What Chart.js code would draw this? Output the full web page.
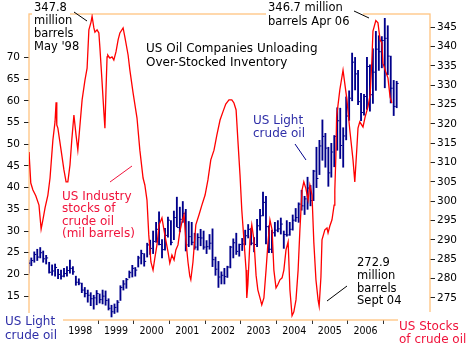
<!DOCTYPE html>
<html>
<head>
<meta charset="utf-8">
<script src="https://cdn.jsdelivr.net/npm/chart.js@4.4.1/dist/chart.umd.min.js"></script>
<style>
  html, body { margin: 0; padding: 0; background: #fff; }
  canvas { display: block; }
</style>
</head>
<body>
<canvas id="oilChart" width="467" height="347"></canvas>
<script>
// monthly US light crude bars, starting July 1996
const firstMonth = { year: 1996, month: 7 };

const priceHigh = [
  23.3, 23.8, 25.2, 25.8, 26.2, 25.4,
  24.4, 22.8, 22.2, 22.4, 21.2, 21.0, 21.4, 21.8, 23.3, 21.8, 19.6, 19.0,
  18.0, 17.0, 16.4, 15.8, 15.2, 16.3, 15.5, 16.4, 16.2, 14.4, 12.9, 13.2,
  14.0, 17.4, 18.6, 19.1, 20.8, 22.1, 21.6, 24.2, 25.6, 24.8, 27.2, 27.9,
  30.0, 32.0, 34.4, 28.0, 30.6, 33.2, 32.4, 34.6, 37.8, 35.5, 36.8, 35.0,
  32.2, 32.0, 29.5, 29.4, 30.4, 30.0, 27.8, 29.2, 30.5, 24.0, 23.0, 20.6,
  21.4, 21.9, 26.5, 28.2, 29.5, 27.0, 28.3, 30.2, 31.5, 30.6, 28.5, 32.7,
  35.0, 39.0, 38.0, 31.2, 30.2, 32.0, 32.4, 33.0, 30.0, 32.4, 32.0, 33.7,
  35.2, 36.5, 39.4, 38.0, 42.4, 40.5, 44.0, 49.3, 50.9, 55.6, 52.5, 49.3,
  50.2, 52.0, 58.4, 58.3, 53.8, 60.9, 62.3, 71.0, 70.0, 67.0, 61.7, 61.5,
  70.0, 68.3, 72.0, 76.0, 75.0, 74.8, 79.0, 77.3, 70.3, 64.7, 64.5
];
const priceLow = [
  20.3, 22.0, 22.8, 23.2, 23.8, 22.8,
  22.4, 20.3, 19.8, 19.6, 19.0, 18.9, 19.4, 19.6, 20.3, 20.0, 17.5, 17.6,
  15.8, 14.8, 13.6, 12.8, 12.0, 13.0, 13.4, 13.2, 12.9, 11.8, 10.2, 11.0,
  11.3, 14.0, 16.4, 16.8, 19.2, 19.4, 19.6, 21.7, 22.4, 21.9, 24.0, 24.6,
  24.8, 27.4, 26.8, 23.8, 25.6, 28.6, 26.8, 28.0, 31.0, 29.8, 32.0, 25.4,
  26.4, 26.8, 25.8, 25.6, 26.6, 25.8, 24.8, 25.8, 21.8, 19.8, 17.0, 17.8,
  17.8, 19.3, 21.5, 23.8, 24.6, 24.2, 25.5, 26.8, 28.4, 26.8, 25.2, 26.4,
  30.2, 33.5, 27.0, 25.0, 25.0, 28.8, 29.8, 29.3, 26.0, 28.8, 29.0, 30.2,
  32.2, 32.0, 34.8, 33.8, 35.0, 35.8, 37.0, 40.0, 43.0, 46.3, 44.7, 40.3,
  42.4, 44.8, 48.6, 46.7, 44.7, 51.0, 55.5, 60.0, 62.5, 59.1, 55.4, 56.7,
  58.0, 57.6, 59.4, 62.4, 67.0, 67.6, 63.0, 66.0, 59.5, 56.6, 58.4
];
const priceClose = [
  22.6, 23.2, 24.6, 24.0, 25.0, 23.6,
  23.8, 20.5, 20.8, 21.6, 20.0, 19.6, 20.2, 20.9, 21.4, 20.6, 18.2, 18.0,
  16.4, 15.6, 15.2, 14.4, 14.6, 15.6, 14.2, 15.0, 14.0, 12.2, 11.4, 12.4,
  13.6, 17.0, 17.8, 18.8, 20.4, 21.4, 21.0, 23.8, 24.8, 23.0, 26.8, 26.0,
  27.6, 30.4, 26.9, 25.7, 29.0, 32.5, 27.4, 33.1, 30.8, 32.7, 34.0, 26.8,
  28.7, 27.4, 26.3, 28.5, 28.4, 26.3, 26.4, 27.2, 23.4, 21.2, 19.4, 19.8,
  19.5, 21.7, 26.3, 27.3, 25.3, 26.9, 27.0, 28.9, 30.4, 27.2, 26.9, 31.2,
  33.5, 36.6, 31.0, 25.8, 29.6, 30.2, 30.5, 31.6, 29.2, 29.1, 30.4, 32.5,
  33.1, 36.2, 35.8, 37.4, 39.9, 37.0, 43.8, 42.1, 49.6, 51.8, 49.1, 43.4,
  48.2, 51.8, 55.4, 49.7, 51.9, 56.5, 60.6, 68.9, 66.2, 59.8, 57.3, 61.0,
  67.9, 61.4, 66.6, 71.9, 71.3, 73.9, 74.4, 70.3, 62.9, 58.7, 64.0
];

// US crude stocks (million barrels), dates as decimal years
const stockDates = [
  1996.56, 1996.61, 1996.67, 1996.75, 1996.84, 1996.90, 1996.95,
  1997.01, 1997.09, 1997.15, 1997.23, 1997.29, 1997.32, 1997.34, 1997.37, 1997.46,
  1997.54, 1997.60, 1997.65, 1997.71, 1997.76, 1997.82, 1997.88, 1997.93, 1997.99,
  1998.05, 1998.13, 1998.19, 1998.24, 1998.30, 1998.33, 1998.38, 1998.41, 1998.47, 1998.52,
  1998.55, 1998.61, 1998.66, 1998.69, 1998.72, 1998.75, 1998.77, 1998.83, 1998.89, 1998.94,
  1999.00, 1999.06, 1999.11, 1999.20, 1999.25, 1999.34, 1999.39, 1999.48,
  1999.59, 1999.67, 1999.76, 1999.81, 1999.87, 1999.92, 1999.98,
  2000.04, 2000.09, 2000.15, 2000.21, 2000.29, 2000.37, 2000.46, 2000.51,
  2000.57, 2000.63, 2000.68, 2000.74, 2000.79, 2000.85, 2000.91, 2000.96,
  2001.02, 2001.07, 2001.10, 2001.16, 2001.24, 2001.33, 2001.41,
  2001.50, 2001.58, 2001.66, 2001.75, 2001.83, 2001.92,
  2002.00, 2002.08, 2002.17, 2002.25, 2002.31, 2002.37, 2002.42, 2002.48, 2002.53,
  2002.59, 2002.65, 2002.67, 2002.70, 2002.76, 2002.81, 2002.87, 2002.93, 2002.98,
  2003.04, 2003.09, 2003.15, 2003.21, 2003.26, 2003.32, 2003.38, 2003.43, 2003.49,
  2003.54, 2003.60, 2003.66, 2003.71, 2003.77, 2003.83, 2003.88, 2003.94, 2003.99,
  2004.05, 2004.11, 2004.16, 2004.22, 2004.27, 2004.33, 2004.39, 2004.44, 2004.50,
  2004.55, 2004.61, 2004.67, 2004.70, 2004.75, 2004.78, 2004.86, 2004.92, 2004.95,
  2005.00, 2005.06, 2005.12, 2005.14, 2005.17, 2005.19, 2005.28, 2005.37, 2005.48,
  2005.56, 2005.65, 2005.70, 2005.76, 2005.79, 2005.84, 2005.93, 2005.99,
  2006.07, 2006.13, 2006.18, 2006.21, 2006.29, 2006.35, 2006.41,
  2006.46, 2006.49, 2006.57, 2006.63, 2006.69, 2006.74
];
const stockValues = [
  312.7, 304.7, 302.9, 301.4, 299.0, 292.8, 295.2,
  298.3, 301.6, 306.0, 315.8, 320.5, 325.6, 319.7, 318.9, 313.2,
  308.1, 305.0, 305.0, 309.4, 315.8, 322.3, 317.1, 313.2, 319.7,
  326.2, 331.3, 334.4, 344.3, 346.3, 347.8, 344.8, 343.7, 344.3, 343.5,
  339.6, 330.8, 323.1, 318.9, 328.7, 337.3, 337.8, 337.0, 337.3, 336.5,
  338.6, 341.7, 343.5, 344.8, 342.4, 337.8, 333.9, 328.0,
  321.5, 313.2, 306.0, 304.2, 300.3, 291.3, 284.3,
  282.2, 285.3, 288.7, 293.9, 295.7, 291.3, 286.9, 284.0,
  286.1, 284.8, 287.4, 288.7, 292.1, 294.6, 296.5, 290.0,
  284.3, 280.7, 279.7, 284.3, 293.9, 296.5, 299.0,
  301.6, 305.5, 310.7, 313.2, 317.1, 321.0,
  323.1, 325.1, 326.2, 326.2, 325.4, 323.6, 315.8, 306.8, 297.7,
  290.0, 282.2, 275.0, 278.4, 290.0, 293.9, 290.0, 280.9, 277.1,
  275.0, 273.2, 275.0, 282.2, 288.7, 295.2, 292.6, 282.2, 277.6,
  278.4, 279.7, 280.2, 282.2, 287.4, 289.5, 277.1, 270.4, 271.4,
  274.5, 282.2, 292.6, 302.9, 305.0, 303.2, 300.3, 304.2, 301.6,
  289.5, 279.7, 274.5, 272.9, 280.4, 290.0, 292.6, 293.1, 291.8,
  293.6, 295.2, 299.0, 302.9, 312.0, 321.8, 328.8, 333.9, 326.2,
  318.4, 310.7, 305.0, 314.0, 318.9, 320.5, 319.2, 321.8,
  324.4, 327.5, 336.5, 344.0, 346.7, 346.1, 341.7,
  340.9, 335.7, 333.4, 331.9, 326.9, 325.4
];

const yearTicks = [1998, 1999, 2000, 2001, 2002, 2003, 2004, 2005, 2006];
const priceTicks = [15, 20, 25, 30, 35, 40, 45, 50, 55, 60, 65, 70];
const stockTicks = [275, 280, 285, 290, 295, 300, 305, 310, 315, 320, 325, 330, 335, 340, 345];

// bar positions: middle of each month
const priceDates = priceHigh.map((_, i) => {
  const m = firstMonth.month - 1 + i;
  return firstMonth.year + Math.floor(m / 12) + ((m % 12) + 0.5) / 12;
});

const stockLine = stockDates.map((d, i) => ({ x: d, y: stockValues[i] }));
const priceRange = priceDates.map((d, i) => ({ x: d, y: [priceLow[i], priceHigh[i]] }));
const priceEnd = priceDates.map((d, i) => ({ x: d, y: priceClose[i] }));

const FONT = "'DejaVu Sans', Verdana, sans-serif";
const NAVY = '#00008b';

// text blocks: x, centre of first line, line step
const notes = [
  { lines: ['347.8', 'million', 'barrels', "May '98"], x: 34, y: 8, step: 13, size: 11.5, color: '#000', box: [32, 1, 38, 16] },
  { lines: ['346.7 million', 'barrels Apr 06'], x: 268, y: 8.5, step: 13.5, size: 11.5, color: '#000', box: [266, 1, 97, 27] },
  { lines: ['US Oil Companies Unloading', 'Over-Stocked Inventory'], x: 146, y: 49, step: 14, size: 12, color: '#000' },
  { lines: ['US Light', 'crude oil'], x: 253, y: 120.5, step: 13, size: 12, color: '#2f2fa8' },
  { lines: ['US Industry', 'stocks of', 'crude oil', '(mil barrels)'], x: 62, y: 197, step: 12.3, size: 12, color: '#f0143c' },
  { lines: ['272.9', 'million', 'barrels', 'Sept 04'], x: 357, y: 263, step: 12.8, size: 11.5, color: '#000' },
  { lines: ['US Light', 'crude oil'], x: 5, y: 322, step: 13.5, size: 12, color: '#2f2fa8', box: [0, 313, 63, 34] },
  { lines: ['US Stocks', 'of crude oil'], x: 399, y: 326.5, step: 13.5, size: 12, color: '#f0143c', box: [398, 312, 69, 35] }
];
const leaders = [
  { from: [74, 12], to: [87, 21], color: '#000' },
  { from: [354, 11], to: [369, 18], color: '#000' },
  { from: [110, 182], to: [132, 166], color: '#f0143c' },
  { from: [295, 144], to: [306, 160], color: NAVY },
  { from: [327, 301], to: [347, 286], color: '#000' }
];

const framePlugin = {
  id: 'frame',
  beforeDatasetsDraw(chart) {
    const { ctx, chartArea: a } = chart;
    ctx.save();
    ctx.strokeStyle = '#ffc480';
    ctx.lineWidth = 1.3;
    ctx.strokeRect(a.left, a.top, a.right - a.left, a.bottom - a.top);
    ctx.restore();
  },
  afterDraw(chart) {
    const ctx = chart.ctx;
    ctx.save();
    notes.forEach(n => {
      if (n.box) {
        ctx.fillStyle = '#fff';
        ctx.fillRect(n.box[0], n.box[1], n.box[2], n.box[3]);
      }
      ctx.fillStyle = n.color;
      ctx.font = n.size + 'px ' + FONT;
      ctx.textBaseline = 'middle';
      ctx.textAlign = 'left';
      n.lines.forEach((t, i) => ctx.fillText(t, n.x, n.y + i * n.step));
    });
    ctx.lineWidth = 1;
    leaders.forEach(l => {
      ctx.strokeStyle = l.color;
      ctx.beginPath();
      ctx.moveTo(l.from[0], l.from[1]);
      ctx.lineTo(l.to[0], l.to[1]);
      ctx.stroke();
    });
    ctx.restore();
  }
};

new Chart(document.getElementById('oilChart').getContext('2d'), {
  type: 'line',
  data: {
    datasets: [
      {
        type: 'line',
        data: stockLine,
        yAxisID: 'yStock',
        borderColor: '#ff0000',
        borderWidth: 1.3,
        pointRadius: 0,
        tension: 0,
        order: 0
      },
      {
        type: 'bar',
        data: priceRange,
        yAxisID: 'yPrice',
        backgroundColor: NAVY,
        barThickness: 1.2,
        order: 1
      },
      {
        type: 'line',
        data: priceEnd,
        yAxisID: 'yPrice',
        showLine: false,
        pointStyle: 'dash',
        pointRadius: 2,
        pointBorderWidth: 1,
        borderColor: NAVY,
        backgroundColor: NAVY,
        order: 1
      }
    ]
  },
  options: {
    responsive: false,
    devicePixelRatio: 1,
    animation: false,
    layout: { padding: { top: 14, left: 0, right: 0, bottom: 0 }, autoPadding: false },
    plugins: { legend: { display: false }, tooltip: { enabled: false } },
    scales: {
      x: {
        type: 'linear',
        min: 1996.56,
        max: 2007.81,
        offset: false,
        afterBuildTicks: (scale) => { scale.ticks = yearTicks.map(v => ({ value: v })); },
        afterFit: (scale) => { scale.height = 27; },
        border: { display: false },
        grid: { drawOnChartArea: false, tickLength: 4, color: '#333' },
        ticks: {
          padding: 1,
          color: '#000',
          autoSkip: false,
          maxRotation: 0,
          font: { family: "'DejaVu Sans Condensed', 'DejaVu Sans'", size: 10.5 },
          callback: (v) => String(v)
        }
      },
      yPrice: {
        type: 'linear',
        position: 'left',
        min: 9.5,
        max: 80,
        afterBuildTicks: (scale) => { scale.ticks = priceTicks.map(v => ({ value: v })); },
        afterFit: (scale) => { scale.width = 29; },
        border: { display: false },
        grid: { drawOnChartArea: false, tickLength: 5, color: '#222' },
        ticks: { padding: 4, color: '#000', font: { family: FONT, size: 10.5 } }
      },
      yStock: {
        type: 'linear',
        position: 'right',
        min: 269.3,
        max: 348.4,
        afterBuildTicks: (scale) => { scale.ticks = stockTicks.map(v => ({ value: v })); },
        afterFit: (scale) => { scale.width = 37; },
        border: { display: false },
        grid: { drawOnChartArea: false, tickLength: 5, color: '#222' },
        ticks: { padding: 2, color: '#000', font: { family: FONT, size: 10.5 } }
      }
    }
  },
  plugins: [framePlugin]
});
</script>
</body>
</html>
